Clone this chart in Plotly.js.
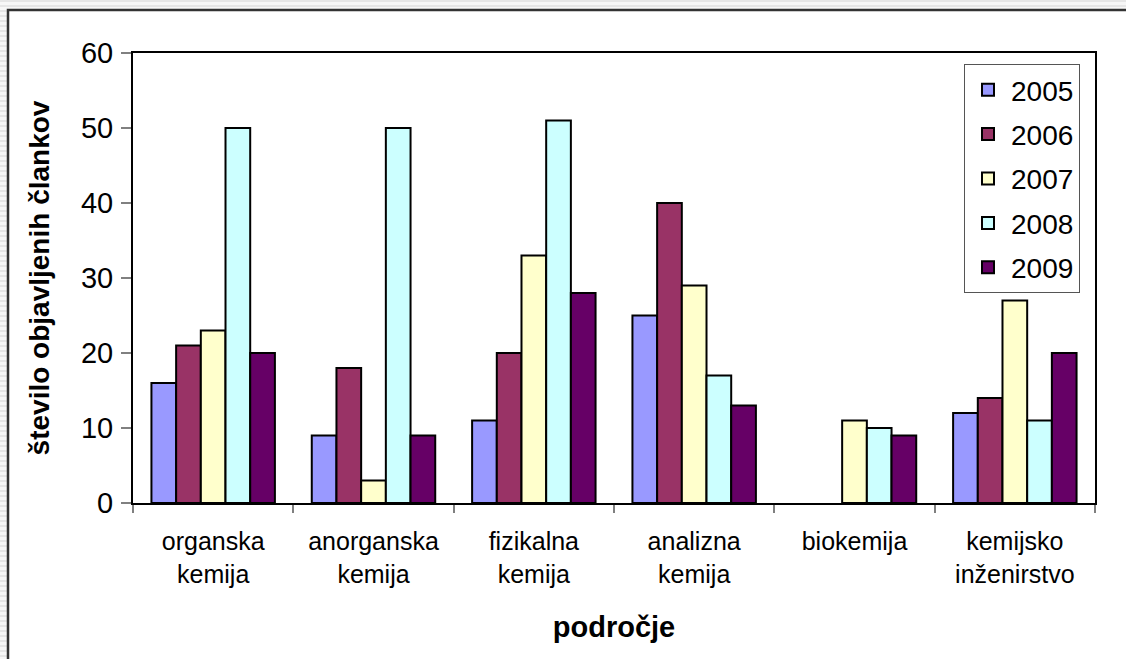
<!DOCTYPE html>
<html>
<head>
<meta charset="utf-8">
<script src="https://cdn.plot.ly/plotly-3.0.1.min.js"></script>
<style>
html,body{margin:0;padding:0;}
body{width:1126px;height:659px;overflow:hidden;
background:repeating-linear-gradient(to bottom,#e6e6e6 0px,#e6e6e6 2px,#f7f7f7 2px,#f7f7f7 5px);}
#chart{width:1126px;height:659px;}
</style>
</head>
<body>
<div id="chart"></div>
<script>
const categories = ["organska<br>kemija", "anorganska<br>kemija", "fizikalna<br>kemija", "analizna<br>kemija", "biokemija", "kemijsko<br>inženirstvo"];
const years = ["2005", "2006", "2007", "2008", "2009"];
const v2005 = [16, 9, 11, 25, 0, 12];
const v2006 = [21, 18, 20, 40, 0, 14];
const v2007 = [23, 3, 33, 29, 11, 27];
const v2008 = [50, 50, 51, 17, 10, 11];
const v2009 = [20, 9, 28, 13, 9, 20];
const colors = ["#9999FF", "#993366", "#FFFFCC", "#CCFFFF", "#660066"];
const series = [v2005, v2006, v2007, v2008, v2009];
const yTicks = [0, 10, 20, 30, 40, 50, 60];

const FONT = "Liberation Sans, Arial, sans-serif";

const traces = series.map((vals, i) => ({
  type: "bar",
  name: years[i],
  x: categories,
  y: vals.map(v => v === 0 ? null : v),
  legendgroup: "g" + i,
  marker: {color: colors[i], line: {color: "#000", width: 2}},
  hoverinfo: "x+y+name"
}));

// plot area: left 133, right 1095, top 53, bottom 503
const L = 133, R = 1095, T = 53, B = 503;
const W = R - L, H = B - T;
const px = x => (x - L) / W;
const py = y => (B - y) / H;

const layout = {
  width: 1126, height: 659,
  margin: {l: L, r: 1126 - R, t: T, b: 659 - B},
  paper_bgcolor: "rgba(0,0,0,0)",
  plot_bgcolor: "#fff",
  font: {family: FONT, color: "#000", size: 26},
  barmode: "group",
  bargap: 0.23,
  bargroupgap: 0,
  showlegend: true,
  legend: {
    x: px(964), y: py(64), xanchor: "left", yanchor: "top",
    bgcolor: "#fff", bordercolor: "#555", borderwidth: 1,
    font: {family: FONT, size: 28, color: "#000"},
    tracegroupgap: 5,
    itemwidth: 36,
    traceorder: "grouped"
  },
  xaxis: {
    type: "category",
    tickson: "boundaries",
    ticks: "outside", ticklen: 8, tickcolor: "#808080", tickwidth: 2,
    showline: true, mirror: true, linecolor: "#000", linewidth: 2,
    showgrid: false,
    ticklabelstandoff: 15,
    tickfont: {family: FONT, size: 25},
    title: {text: "<b>področje</b>", font: {family: FONT, size: 29}, standoff: 30}
  },
  yaxis: {
    range: [0, 60],
    tickvals: yTicks,
    ticktext: yTicks.map(String),
    ticks: "outside", ticklen: 10, tickcolor: "#808080", tickwidth: 2,
    showline: true, mirror: true, linecolor: "#000", linewidth: 2,
    showgrid: false, zeroline: false,
    ticklabelstandoff: 2,
    tickfont: {family: FONT, size: 29},
    title: {text: "<b>število objavljenih člankov</b>", font: {family: FONT, size: 28}, standoff: 23}
  },
  shapes: [{
    type: "rect", xref: "paper", yref: "paper", layer: "below",
    x0: px(8), x1: px(1140), y0: py(680), y1: py(10),
    fillcolor: "#fff", line: {color: "#333", width: 2.5}
  }]
};

Plotly.newPlot("chart", traces, layout, {displayModeBar: false, staticPlot: true});
</script>
</body>
</html>
